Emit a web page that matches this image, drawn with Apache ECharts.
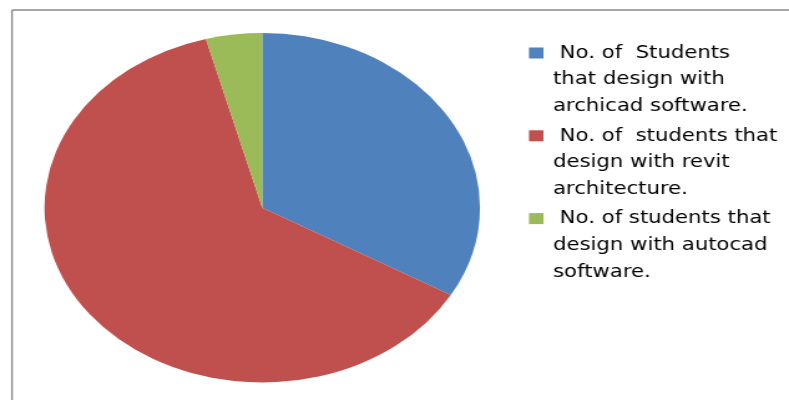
<!DOCTYPE html>
<html>
<head>
<meta charset="utf-8">
<script src="https://cdn.jsdelivr.net/npm/echarts@6/dist/echarts.min.js"></script>
<style>
html,body{margin:0;padding:0;background:#fff;overflow:hidden;}
#wrap{position:absolute;left:0;top:0;width:789px;height:400px;overflow:hidden;background:#fff;}
#chart{position:absolute;left:0;top:0;width:633px;height:400px;transform:scaleX(1.2464);transform-origin:0 0;}
</style>
</head>
<body>
<div id="wrap"><div id="chart"></div></div>
<script>
// ---- data ----
const categories = [
  'No. of Students that design with archicad software.',
  'No. of students that design with revit architecture.',
  'No. of students that design with autocad software.'
];
const studentCounts = [16, 30, 2];
const legendLines = [
  [' No. of  Students', 'that design with', 'archicad software.'],
  [' No. of  students that', 'design with revit', 'architecture.'],
  [' No. of students that', 'design with autocad', 'software.']
];
const palette = ['#4F81BD', '#C0504D', '#9BBB59'];

// ---- chart ----
const chart = echarts.init(document.getElementById('chart'), null, {renderer: 'canvas'});

const graphics = [
  // chart area border (top and left edges visible)
  {type: 'line', shape: {x1: 9.6, y1: 10, x2: 640, y2: 10}, style: {stroke: '#8a8a8a', lineWidth: 1.6}, silent: true},
  {type: 'line', shape: {x1: 9.6, y1: 10, x2: 9.6, y2: 410}, style: {stroke: '#8a8a8a', lineWidth: 1.4}, silent: true}
];
const legendTop = 40, legendPitch = 82.8, lineH = 26.7;
categories.forEach(function (name, i) {
  const top = legendTop + i * legendPitch;
  graphics.push({
    type: 'rect',
    shape: {x: 424.4, y: top + 7.5, width: 11.6, height: 11},
    style: {fill: palette[i]},
    silent: true
  });
  graphics.push({
    type: 'text',
    x: 443.7, y: top,
    style: {
      text: legendLines[i].join('\n'),
      fill: '#000',
      font: '17px "DejaVu Sans"',
      lineHeight: lineH,
      verticalAlign: 'top',
      align: 'left'
    },
    silent: true
  });
});

chart.setOption({
  animation: false,
  backgroundColor: 'transparent',
  color: palette,
  graphic: graphics,
  series: [{
    type: 'pie',
    center: [210.4, 207.7],
    radius: 174.7,
    startAngle: 90,
    clockwise: true,
    silent: true,
    label: {show: false},
    labelLine: {show: false},
    itemStyle: {borderWidth: 0},
    data: categories.map(function (n, i) { return {name: n, value: studentCounts[i]}; })
  }]
});
</script>
</body>
</html>
